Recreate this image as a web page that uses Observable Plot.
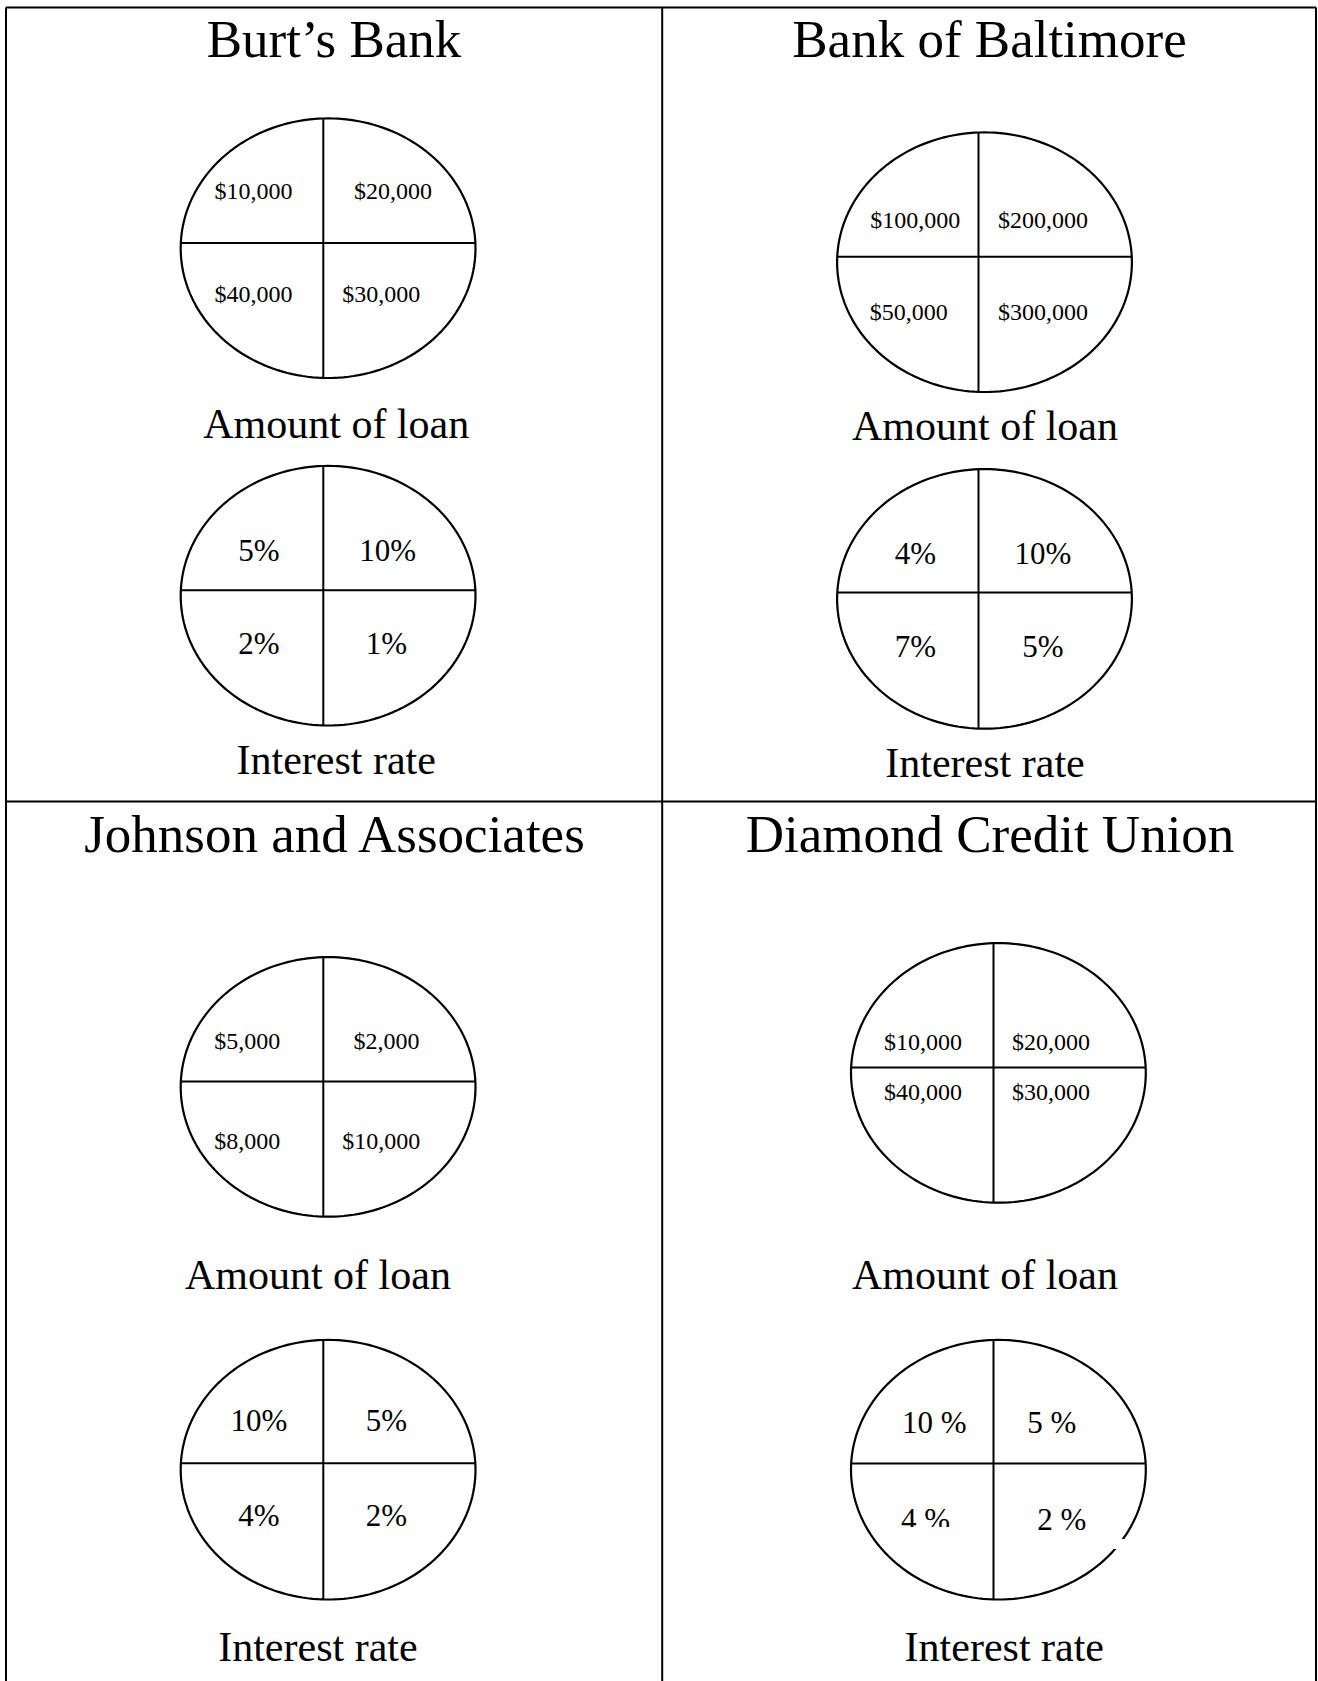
<!DOCTYPE html>
<html>
<head>
<meta charset="utf-8">
<script src="https://cdn.jsdelivr.net/npm/d3@7"></script>
<script src="https://cdn.jsdelivr.net/npm/@observablehq/plot@0.6"></script>
<style>
  html, body { margin: 0; padding: 0; background: #fff; }
  #chart svg { display: block; }
</style>
</head>
<body>
<div id="chart"></div>
<script>
// ---------- DATA ----------
const banks = ["Burt’s Bank", "Bank of Baltimore", "Johnson and Associates", "Diamond Credit Union"];
const chartNames = ["Amount of loan", "Interest rate"];
// quadrant order: top-left, top-right, bottom-left, bottom-right
const loanAmounts = [
  ["$10,000", "$20,000", "$40,000", "$30,000"],
  ["$100,000", "$200,000", "$50,000", "$300,000"],
  ["$5,000", "$2,000", "$8,000", "$10,000"],
  ["$10,000", "$20,000", "$40,000", "$30,000"]
];
const interestRates = [
  ["5%", "10%", "2%", "1%"],
  ["4%", "10%", "7%", "5%"],
  ["10%", "5%", "4%", "2%"],
  ["10 %", "5 %", "4 %", "2 %"]
];

// ---------- LAYOUT (page geometry, pixels) ----------
const W = 1318, H = 1681;
const frame = {left: 5.5, top: 7, right: 1315.5, midX: 661.7, midY: 801};
const titlePos = [[333.5, 39.5], [989, 39.5], [334, 834.5], [989.5, 834.5]];
const RX = 147.4, RY = 129.8;
// per bank: [loan ellipse, rate ellipse]; each {cx, cy, vx, hy, off:[[dx,dy]x4], cap:[x,y]}
const ellipseLayout = [
  [
    {cx: 327.6, cy: 247.7, vx: 322.8, hy: 242.4, off: [[-69.8,-51.5],[69.7,-51.5],[-69.8,51.4],[57.9,51.4]], cap: [335.7, 423.6]},
    {cx: 327.6, cy: 595.2, vx: 322.8, hy: 589.8, off: [[-64.4,-39.7],[64.3,-39.7],[-64.4,53.6],[63.2,53.6]], cap: [335.7, 760.3]}
  ],
  [
    {cx: 984, cy: 261.7, vx: 978, hy: 256.3, off: [[-63.2,-36.5],[64.4,-36.5],[-69.7,55.7],[64.4,55.7]], cap: [984.5, 425.7]},
    {cx: 984, cy: 598.4, vx: 978, hy: 592, off: [[-63.2,-38.6],[64.4,-38.6],[-63.2,54.6],[64.4,54.6]], cap: [984.5, 763.5]}
  ],
  [
    {cx: 327.6, cy: 1086.4, vx: 322.8, hy: 1081, off: [[-76.1,-39.7],[63.2,-39.7],[-76.1,60],[57.9,60]], cap: [317.4, 1275]},
    {cx: 327.6, cy: 1469.2, vx: 322.8, hy: 1462.8, off: [[-64.4,-41.9],[63.2,-41.9],[-64.4,52.5],[63.2,52.5]], cap: [317.4, 1647]}
  ],
  [
    {cx: 997.9, cy: 1072.4, vx: 993, hy: 1067, off: [[-70.5,-25.3],[57.5,-25.3],[-70.5,24.7],[57.5,24.7]], cap: [984.5, 1275]},
    {cx: 997.9, cy: 1469.2, vx: 993, hy: 1463, off: [[-59.2,-40],[58.3,-40],[-68,57],[68.3,57]], cap: [1003.8, 1647]}
  ]
];
// white patches present in the scanned original (clipped "4 %" and a break in the ellipse)
const scanGaps = [
  {x1: 895, x2: 956, y1: 1527, y2: 1543},
  {x1: 1113, x2: 1124, y1: 1539, y2: 1549}
];

// ---------- BUILD MARK TABLES ----------
const borderSegs = [
  {x1: frame.left, y1: frame.top, x2: frame.left, y2: H},
  {x1: frame.right, y1: frame.top, x2: frame.right, y2: H},
  {x1: frame.left, y1: frame.top, x2: frame.right, y2: frame.top},
  {x1: frame.midX, y1: frame.top, x2: frame.midX, y2: H},
  {x1: frame.left, y1: frame.midY, x2: frame.right, y2: frame.midY}
];

const ellipsePts = [], crossSegs = [], loanLabels = [], rateLabels = [], captions = [], titles = [];
banks.forEach((bank, b) => {
  titles.push({x: titlePos[b][0], y: titlePos[b][1], text: bank});
  [loanAmounts[b], interestRates[b]].forEach((values, k) => {
    const L = ellipseLayout[b][k];
    const id = b + "-" + k;
    for (let i = 0; i < 180; i++) {
      const t = (i / 180) * 2 * Math.PI;
      ellipsePts.push({id, x: L.cx + RX * Math.cos(t), y: L.cy + RY * Math.sin(t)});
    }
    const hv = RY * Math.sqrt(Math.max(0, 1 - ((L.vx - L.cx) / RX) ** 2));
    crossSegs.push({x1: L.vx, y1: L.cy - hv, x2: L.vx, y2: L.cy + hv});
    const hh = RX * Math.sqrt(Math.max(0, 1 - ((L.hy - L.cy) / RY) ** 2));
    crossSegs.push({x1: L.cx - hh, y1: L.hy, x2: L.cx + hh, y2: L.hy});
    values.forEach((v, q) => {
      (k === 0 ? loanLabels : rateLabels).push({x: L.vx + L.off[q][0], y: L.hy + L.off[q][1], text: v});
    });
    captions.push({x: L.cap[0], y: L.cap[1], text: chartNames[k]});
  });
});

const font = "'Liberation Serif', 'Times New Roman', serif";

const chart = Plot.plot({
  width: W,
  height: H,
  margin: 0,
  x: {domain: [0, W], range: [0, W], axis: null},
  y: {domain: [0, H], range: [0, H], axis: null},
  style: {background: "#fff"},
  marks: [
    Plot.link(borderSegs, {x1: "x1", y1: "y1", x2: "x2", y2: "y2", stroke: "#000", strokeWidth: 2}),
    Plot.link(crossSegs, {x1: "x1", y1: "y1", x2: "x2", y2: "y2", stroke: "#000", strokeWidth: 2}),
    Plot.line(ellipsePts, {x: "x", y: "y", z: "id", curve: "linear-closed", stroke: "#000", strokeWidth: 2.2}),
    Plot.text(titles, {x: "x", y: "y", text: "text", fontSize: 53, fontFamily: font, fill: "#000"}),
    Plot.text(captions, {x: "x", y: "y", text: "text", fontSize: 42, fontFamily: font, fill: "#000"}),
    Plot.text(loanLabels, {x: "x", y: "y", text: "text", fontSize: 24, fontFamily: font, fill: "#000"}),
    Plot.text(rateLabels, {x: "x", y: "y", text: "text", fontSize: 31, fontFamily: font, fill: "#000"}),
    Plot.rect(scanGaps, {x1: "x1", x2: "x2", y1: "y1", y2: "y2", fill: "#fff"})
  ]
});
document.getElementById("chart").appendChild(chart);
</script>
</body>
</html>
